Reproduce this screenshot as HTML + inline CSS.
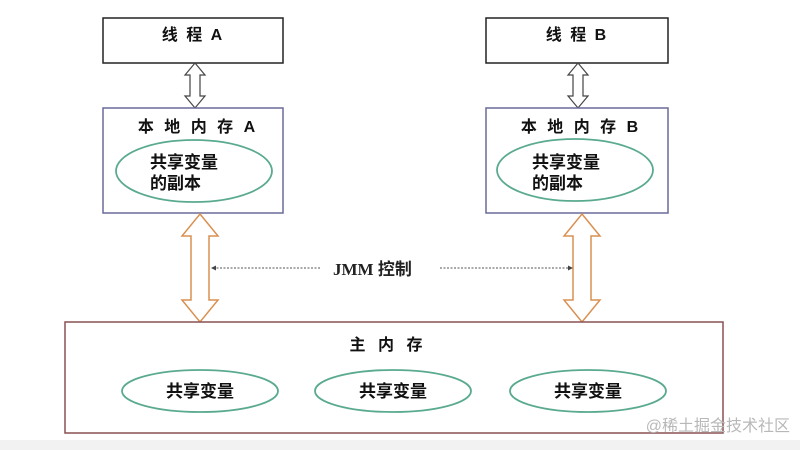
<!DOCTYPE html>
<html><head><meta charset="utf-8"><style>
html,body{margin:0;padding:0;background:#fff;}
body{width:800px;height:450px;overflow:hidden;position:relative;font-family:"Liberation Sans","Noto Sans CJK SC",sans-serif;}
</style></head><body>
<svg width="800" height="450" viewBox="0 0 800 450" xmlns="http://www.w3.org/2000/svg" style="position:absolute;left:0;top:0">
<rect x="0" y="440" width="800" height="10" fill="#f2f2f2"/>
<rect x="103" y="18" width="180" height="45" fill="#fff" stroke="#222" stroke-width="1.5"/>
<rect x="486" y="18" width="182" height="45" fill="#fff" stroke="#222" stroke-width="1.5"/>
<text x="193" y="40" font-size="16" font-weight="bold" text-anchor="middle" fill="#111" letter-spacing="2" font-family="Liberation Sans,Noto Sans CJK SC,sans-serif">线 程 A</text>
<text x="577" y="40" font-size="16" font-weight="bold" text-anchor="middle" fill="#111" letter-spacing="2" font-family="Liberation Sans,Noto Sans CJK SC,sans-serif">线 程 B</text>
<polygon points="195,63 205,75 200,75 200,96 205,96 195,108 185,96 190,96 190,75 185,75" fill="#fff" stroke="#444" stroke-width="1.2"/>
<polygon points="578,63 588,75 583,75 583,96 588,96 578,108 568,96 573,96 573,75 568,75" fill="#fff" stroke="#444" stroke-width="1.2"/>
<rect x="103" y="108" width="180" height="105" fill="#fff" stroke="#6a6a9a" stroke-width="1.5"/>
<rect x="486" y="108" width="182" height="105" fill="#fff" stroke="#6a6a9a" stroke-width="1.5"/>
<text x="198" y="132" font-size="16" font-weight="bold" text-anchor="middle" fill="#111" letter-spacing="3" font-family="Liberation Sans,Noto Sans CJK SC,sans-serif">本 地 内 存 A</text>
<text x="581" y="132" font-size="16" font-weight="bold" text-anchor="middle" fill="#111" letter-spacing="3" font-family="Liberation Sans,Noto Sans CJK SC,sans-serif">本 地 内 存 B</text>
<ellipse cx="194" cy="171" rx="78" ry="31" fill="#fff" stroke="#5aaa90" stroke-width="1.8"/>
<ellipse cx="575" cy="170" rx="78" ry="31" fill="#fff" stroke="#5aaa90" stroke-width="1.8"/>
<text x="150" y="168" font-size="17" font-weight="bold" fill="#111">共享变量</text>
<text x="150" y="189" font-size="17" font-weight="bold" fill="#111">的副本</text>
<text x="532" y="168" font-size="17" font-weight="bold" fill="#111">共享变量</text>
<text x="532" y="189" font-size="17" font-weight="bold" fill="#111">的副本</text>
<polygon points="200,214 218,236 209,236 209,300 218,300 200,322 182,300 191,300 191,236 182,236" fill="#fff" stroke="#d99050" stroke-width="1.5"/>
<polygon points="582,214 600,236 591,236 591,300 600,300 582,322 564,300 573,300 573,236 564,236" fill="#fff" stroke="#d99050" stroke-width="1.5"/>
<line x1="213" y1="268" x2="320" y2="268" stroke="#555" stroke-width="1" stroke-dasharray="2,1.5"/>
<polygon points="211,268 216,265.5 216,270.5" fill="#444"/>
<line x1="440" y1="268" x2="570" y2="268" stroke="#555" stroke-width="1" stroke-dasharray="2,1.5"/>
<polygon points="573,268 568,265.5 568,270.5" fill="#444"/>
<text x="333" y="275" font-size="17" font-weight="bold" fill="#222" font-family="Liberation Serif,Noto Sans CJK SC,serif">JMM <tspan font-family="Liberation Sans,Noto Sans CJK SC,sans-serif">控制</tspan></text>
<rect x="65" y="322" width="658" height="111" fill="#fff" stroke="#8a5050" stroke-width="1.5"/>
<text x="388" y="350" font-size="16" font-weight="bold" text-anchor="middle" fill="#111" letter-spacing="4">主 内 存</text>
<ellipse cx="200" cy="391" rx="78" ry="21" fill="#fff" stroke="#5aaa90" stroke-width="1.8"/>
<ellipse cx="393" cy="391" rx="78" ry="21" fill="#fff" stroke="#5aaa90" stroke-width="1.8"/>
<ellipse cx="588" cy="391" rx="78" ry="21" fill="#fff" stroke="#5aaa90" stroke-width="1.8"/>
<text x="200" y="397" font-size="17" font-weight="bold" text-anchor="middle" fill="#111">共享变量</text>
<text x="393" y="397" font-size="17" font-weight="bold" text-anchor="middle" fill="#111">共享变量</text>
<text x="588" y="397" font-size="17" font-weight="bold" text-anchor="middle" fill="#111">共享变量</text>
<text x="790" y="431" font-size="16" text-anchor="end" fill="#b8b8b8">@稀土掘金技术社区</text>
</svg>
</body></html>
